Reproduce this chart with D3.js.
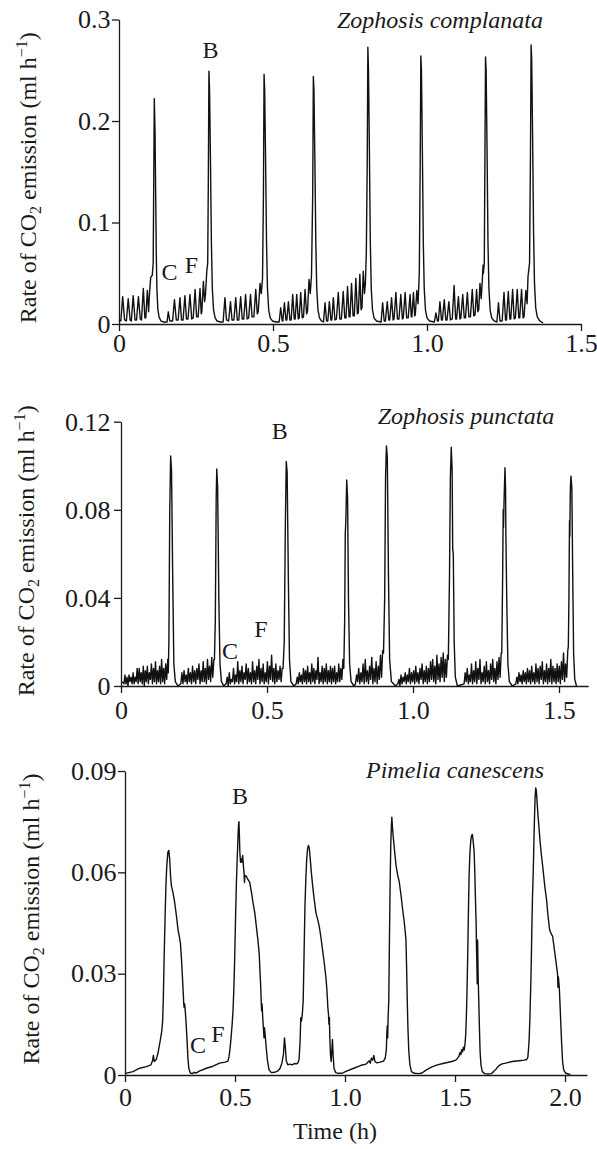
<!DOCTYPE html>
<html>
<head>
<meta charset="utf-8">
<script src="https://cdn.jsdelivr.net/npm/d3@7/dist/d3.min.js"></script>
<style>
  body { margin: 0; background: #fff; }
  svg text { font-family: "Liberation Serif", "Times New Roman", serif; fill: #1a1a1a; }
</style>
</head>
<body>
<script>
// ---- data: [time (h), CO2 rate (ml/h)] ----

var complanataTrace = [
  [0.000,0.004],[0.006,0.003],[0.012,0.027],[0.018,0.004],[0.024,0.003],[0.030,0.025],[0.036,0.004],[0.040,0.003],
  [0.046,0.028],[0.052,0.004],[0.057,0.004],[0.063,0.027],[0.069,0.005],[0.073,0.004],[0.079,0.035],[0.084,0.006],
  [0.087,0.006],[0.092,0.033],[0.096,0.012],[0.099,0.030],[0.103,0.046],[0.108,0.048],[0.111,0.060],
  [0.113,0.150],[0.1146,0.222],[0.117,0.190],[0.119,0.130],[0.121,0.070],[0.123,0.035],[0.126,0.015],[0.130,0.007],
  [0.136,0.003],[0.145,0.002],[0.156,0.002],
  [0.160,0.012],[0.165,0.003],[0.174,0.003],[0.180,0.024],[0.186,0.004],[0.192,0.004],[0.198,0.026],[0.203,0.004],
  [0.208,0.004],[0.214,0.028],[0.219,0.005],[0.224,0.005],[0.2305,0.029],[0.236,0.005],[0.241,0.006],[0.247,0.034],
  [0.252,0.007],[0.257,0.007],[0.263,0.035],[0.267,0.010],[0.269,0.012],[0.274,0.042],[0.278,0.022],[0.281,0.030],
  [0.285,0.052],[0.288,0.060],[0.290,0.140],[0.292,0.249],[0.294,0.230],[0.297,0.160],[0.300,0.080],[0.303,0.035],
  [0.307,0.014],[0.312,0.006],[0.318,0.003],[0.330,0.002],[0.338,0.002],
  [0.344,0.026],[0.349,0.004],[0.356,0.003],[0.362,0.022],[0.367,0.004],[0.373,0.004],[0.379,0.026],[0.384,0.004],
  [0.389,0.004],[0.395,0.027],[0.400,0.005],[0.405,0.005],[0.411,0.029],[0.416,0.005],[0.421,0.006],[0.427,0.029],
  [0.432,0.007],[0.438,0.007],[0.444,0.034],[0.449,0.010],[0.452,0.012],[0.458,0.040],[0.462,0.030],[0.466,0.045],
  [0.469,0.130],[0.471,0.246],[0.473,0.230],[0.476,0.160],[0.479,0.080],[0.482,0.035],[0.486,0.014],[0.491,0.006],
  [0.498,0.003],[0.510,0.002],[0.520,0.002],
  [0.525,0.016],[0.530,0.003],[0.532,0.003],[0.537,0.021],[0.542,0.004],[0.545,0.004],[0.550,0.022],[0.555,0.004],
  [0.559,0.004],[0.564,0.029],[0.569,0.005],[0.572,0.005],[0.577,0.029],[0.582,0.005],[0.585,0.006],[0.590,0.031],
  [0.595,0.006],[0.599,0.007],[0.604,0.034],[0.609,0.010],[0.612,0.012],[0.617,0.044],[0.621,0.030],[0.625,0.048],
  [0.629,0.130],[0.631,0.244],[0.633,0.230],[0.636,0.160],[0.639,0.080],[0.642,0.035],[0.646,0.014],[0.651,0.006],
  [0.657,0.003],[0.664,0.002],
  [0.669,0.021],[0.674,0.003],[0.678,0.003],[0.683,0.022],[0.688,0.004],[0.691,0.004],[0.696,0.026],[0.701,0.004],
  [0.706,0.005],[0.712,0.031],[0.717,0.005],[0.722,0.005],[0.728,0.032],[0.733,0.006],[0.737,0.006],[0.742,0.037],
  [0.747,0.007],[0.750,0.007],[0.755,0.040],[0.760,0.008],[0.764,0.008],[0.769,0.045],[0.774,0.010],[0.777,0.011],
  [0.782,0.049],[0.786,0.014],[0.789,0.016],[0.793,0.052],[0.797,0.030],[0.800,0.040],[0.803,0.070],
  [0.806,0.160],[0.808,0.2726],[0.810,0.250],[0.813,0.170],[0.816,0.080],[0.819,0.035],[0.823,0.014],[0.828,0.006],
  [0.836,0.003],[0.851,0.002],
  [0.856,0.021],[0.861,0.003],[0.865,0.003],[0.871,0.022],[0.876,0.004],[0.879,0.004],[0.885,0.026],[0.890,0.004],
  [0.893,0.005],[0.899,0.031],[0.904,0.005],[0.909,0.005],[0.915,0.029],[0.920,0.005],[0.923,0.006],[0.929,0.031],
  [0.934,0.006],[0.939,0.006],[0.945,0.029],[0.949,0.007],[0.951,0.007],[0.956,0.031],[0.960,0.008],[0.962,0.009],
  [0.967,0.033],[0.971,0.020],[0.975,0.050],
  [0.978,0.160],[0.980,0.264],[0.982,0.250],[0.985,0.170],[0.988,0.080],[0.991,0.035],[0.995,0.014],[1.000,0.006],
  [1.008,0.003],[1.024,0.002],
  [1.029,0.011],[1.034,0.003],[1.037,0.003],[1.042,0.022],[1.047,0.004],[1.050,0.004],[1.056,0.024],[1.061,0.004],
  [1.065,0.004],[1.071,0.022],[1.076,0.004],[1.082,0.005],[1.088,0.038],[1.093,0.005],[1.096,0.005],[1.102,0.027],
  [1.107,0.005],[1.110,0.006],[1.116,0.029],[1.121,0.006],[1.125,0.006],[1.131,0.031],[1.136,0.007],[1.141,0.007],
  [1.147,0.034],[1.152,0.008],[1.156,0.009],[1.161,0.034],[1.165,0.012],[1.168,0.014],[1.172,0.040],[1.176,0.025],
  [1.180,0.045],[1.182,0.058],[1.183,0.050],[1.186,0.060],
  [1.188,0.160],[1.190,0.263],[1.192,0.250],[1.195,0.170],[1.198,0.080],[1.201,0.035],[1.205,0.014],[1.210,0.006],
  [1.218,0.003],[1.227,0.002],
  [1.232,0.021],[1.237,0.003],[1.244,0.003],[1.250,0.031],[1.255,0.004],[1.258,0.004],[1.264,0.032],[1.269,0.005],
  [1.272,0.005],[1.278,0.034],[1.283,0.005],[1.287,0.006],[1.293,0.034],[1.298,0.006],[1.301,0.006],[1.307,0.034],
  [1.312,0.006],[1.315,0.007],[1.321,0.033],[1.325,0.020],[1.328,0.047],[1.333,0.060],
  [1.336,0.170],[1.338,0.275],[1.340,0.260],[1.343,0.180],[1.346,0.090],[1.349,0.040],[1.353,0.016],[1.358,0.007],
  [1.366,0.003],[1.377,0.001]
];

// Zophosis punctata: burst points plus the dense flutter between them
var punctataBursts = [
  [0.005,0.002],
  [0.162,0.006],[0.164,0.020],[0.167,0.080],[0.170,0.1044],[0.173,0.098],[0.177,0.050],[0.181,0.010],[0.186,0.002],[0.195,0.000],
  [0.320,0.012],[0.323,0.030],[0.326,0.085],[0.328,0.0985],[0.331,0.090],[0.335,0.040],[0.339,0.010],[0.344,0.002],[0.352,0.000],
  [0.555,0.008],[0.559,0.020],[0.563,0.075],[0.566,0.1019],[0.569,0.097],[0.573,0.050],[0.577,0.012],[0.582,0.002],[0.592,0.000],
  [0.763,0.008],[0.766,0.030],[0.768,0.069],[0.770,0.075],[0.773,0.0935],[0.776,0.085],[0.779,0.040],[0.783,0.010],[0.788,0.002],[0.798,0.000],
  [0.899,0.015],[0.903,0.040],[0.906,0.095],[0.909,0.109],[0.912,0.104],[0.916,0.050],[0.920,0.012],[0.926,0.002],[0.940,0.000],
  [1.121,0.012],[1.125,0.050],[1.128,0.095],[1.131,0.1084],[1.134,0.098],[1.136,0.062],[1.138,0.060],[1.141,0.020],[1.145,0.004],[1.152,0.000],
  [1.304,0.015],[1.307,0.050],[1.309,0.080],[1.310,0.072],[1.312,0.085],[1.315,0.0991],[1.317,0.090],[1.318,0.070],[1.321,0.040],[1.325,0.010],[1.330,0.002],[1.340,0.000],
  [1.532,0.018],[1.534,0.040],[1.536,0.075],[1.537,0.068],[1.539,0.090],[1.541,0.0953],[1.544,0.090],[1.547,0.050],[1.550,0.015],[1.554,0.003],[1.560,0.000]
];
var punctataFlutterSpan = [
  [0.010,0.160],[0.205,0.318],[0.360,0.552],[0.600,0.760],[0.803,0.896],[0.948,1.118],[1.175,1.302],[1.352,1.530]
];
var punctataFlutter = [
  [0.001,0.005,0.001,0.004,0.000,0.005,0.002,0.004,0.001,0.006,0.001,0.004,0.002,0.008,0.001,0.008,0.002,0.006,0.001,0.009,0.000,0.007,
   0.002,0.009,0.001,0.006,0.003,0.010,0.001,0.008,0.002,0.011,0.001,0.007,0.002,0.009,0.001,0.012,0.002,0.008,0.001,0.010,0.003,0.012],
  [0.001,0.006,0.001,0.007,0.002,0.005,0.001,0.008,0.002,0.006,0.001,0.009,0.002,0.007,0.001,0.008,0.003,0.010,0.001,0.007,0.002,0.011,
   0.002,0.008,0.001,0.012,0.003,0.009,0.002,0.013,0.004,0.012],
  [0.001,0.004,0.000,0.006,0.001,0.003,0.002,0.008,0.001,0.005,0.002,0.011,0.001,0.007,0.002,0.009,0.001,0.006,0.003,0.010,0.001,0.008,
   0.002,0.006,0.001,0.011,0.002,0.007,0.001,0.009,0.003,0.012,0.001,0.008,0.002,0.010,0.001,0.006,0.002,0.011,0.001,0.009,0.003,0.014,
   0.002,0.008,0.001,0.010,0.002,0.007,0.003,0.009,0.002,0.008],
  [0.001,0.004,0.001,0.006,0.002,0.005,0.001,0.008,0.002,0.007,0.001,0.009,0.002,0.006,0.001,0.010,0.002,0.008,0.001,0.007,0.003,0.013,
   0.001,0.006,0.002,0.009,0.001,0.008,0.002,0.010,0.001,0.007,0.002,0.009,0.001,0.008,0.002,0.009,0.001,0.006,0.002,0.010,0.002,0.008,
   0.003,0.012],
  [0.001,0.005,0.002,0.008,0.001,0.006,0.002,0.010,0.001,0.012,0.002,0.007,0.001,0.009,0.003,0.013,0.001,0.008,0.002,0.011,0.001,0.009,
   0.003,0.014,0.004,0.016],
  [0.001,0.003,0.000,0.005,0.001,0.004,0.002,0.006,0.001,0.005,0.002,0.008,0.001,0.006,0.002,0.007,0.001,0.009,0.002,0.006,0.001,0.008,
   0.003,0.010,0.001,0.007,0.002,0.009,0.001,0.008,0.002,0.011,0.003,0.012,0.002,0.009,0.001,0.014,0.003,0.010,0.002,0.013,0.004,0.015,
   0.002,0.012,0.004,0.014],
  [0.001,0.006,0.002,0.008,0.001,0.005,0.002,0.010,0.001,0.007,0.002,0.011,0.001,0.008,0.003,0.012,0.001,0.006,0.002,0.009,0.001,0.011,
   0.002,0.007,0.001,0.010,0.003,0.012,0.002,0.008,0.001,0.011,0.003,0.013,0.004,0.015],
  [0.001,0.004,0.001,0.006,0.002,0.005,0.001,0.007,0.002,0.006,0.001,0.008,0.002,0.007,0.001,0.009,0.002,0.006,0.001,0.010,0.002,0.008,
   0.001,0.009,0.003,0.011,0.001,0.007,0.002,0.010,0.001,0.008,0.002,0.012,0.001,0.009,0.002,0.008,0.001,0.010,0.002,0.009,0.001,0.011,
   0.003,0.015,0.002,0.010,0.004,0.016]
];

var canescensTrace = [
  [0.003,0.0005],[0.036,0.0010],[0.067,0.0020],[0.097,0.0025],[0.118,0.0030],[0.125,0.0042],[0.129,0.0058],[0.133,0.0040],
  [0.142,0.0046],[0.150,0.0065],[0.158,0.0094],[0.165,0.0120],[0.168,0.0135],[0.171,0.0160],[0.174,0.0220],[0.178,0.0350],
  [0.182,0.0460],[0.186,0.0560],[0.190,0.0620],[0.195,0.0660],[0.199,0.0665],[0.203,0.0640],[0.207,0.0590],[0.211,0.0560],
  [0.218,0.0540],[0.226,0.0510],[0.234,0.0470],[0.241,0.0430],[0.247,0.0410],[0.252,0.0390],[0.257,0.0340],[0.261,0.0290],
  [0.265,0.0240],[0.267,0.0210],[0.269,0.0200],[0.271,0.0210],[0.274,0.0190],[0.278,0.0150],[0.282,0.0104],[0.286,0.0050],
  [0.290,0.0020],[0.297,0.0006],[0.306,0.0004],[0.315,0.0008],[0.324,0.0006],[0.340,0.0012],[0.370,0.0020],[0.400,0.0026],
  [0.430,0.0035],[0.455,0.0038],[0.468,0.0041],[0.473,0.0055],[0.477,0.0075],[0.482,0.0110],[0.487,0.0150],[0.491,0.0190],
  [0.495,0.0260],[0.498,0.0330],[0.502,0.0450],[0.506,0.0560],[0.510,0.0640],[0.514,0.0710],[0.516,0.0740],[0.518,0.0750],
  [0.520,0.0710],[0.522,0.0660],[0.525,0.0630],[0.528,0.0640],[0.531,0.0630],[0.535,0.0650],[0.538,0.0620],[0.541,0.0600],
  [0.543,0.0570],[0.545,0.0590],[0.550,0.0590],[0.558,0.0580],[0.567,0.0570],[0.575,0.0540],[0.582,0.0510],[0.590,0.0480],
  [0.597,0.0440],[0.604,0.0400],[0.610,0.0360],[0.614,0.0300],[0.617,0.0260],[0.619,0.0220],[0.621,0.0190],[0.623,0.0210],
  [0.626,0.0170],[0.629,0.0140],[0.632,0.0110],[0.634,0.0140],[0.637,0.0120],[0.642,0.0080],[0.648,0.0040],[0.655,0.0015],
  [0.665,0.0007],[0.680,0.0008],[0.695,0.0012],[0.705,0.0020],[0.713,0.0035],[0.720,0.0060],[0.725,0.0110],[0.729,0.0080],
  [0.733,0.0042],[0.740,0.0030],[0.750,0.0032],[0.760,0.0030],[0.770,0.0034],[0.780,0.0033],[0.786,0.0036],[0.791,0.0045],
  [0.796,0.0100],[0.799,0.0170],[0.802,0.0160],[0.806,0.0180],[0.810,0.0220],[0.814,0.0360],[0.818,0.0500],[0.822,0.0580],
  [0.826,0.0640],[0.830,0.0670],[0.834,0.0680],[0.838,0.0670],[0.842,0.0640],[0.847,0.0600],[0.853,0.0560],[0.860,0.0520],
  [0.868,0.0480],[0.876,0.0460],[0.883,0.0440],[0.890,0.0410],[0.898,0.0370],[0.906,0.0330],[0.913,0.0290],[0.918,0.0250],
  [0.922,0.0200],[0.925,0.0180],[0.927,0.0150],[0.929,0.0170],[0.931,0.0110],[0.934,0.0060],[0.937,0.0040],[0.940,0.0070],
  [0.943,0.0105],[0.946,0.0060],[0.950,0.0020],[0.958,0.0007],[0.970,0.0005],[0.990,0.0006],[1.010,0.0012],[1.040,0.0020],
  [1.070,0.0028],[1.095,0.0032],[1.110,0.0042],[1.115,0.0035],[1.120,0.0050],[1.126,0.0044],[1.131,0.0058],[1.136,0.0040],
  [1.145,0.0036],[1.160,0.0038],[1.175,0.0041],[1.183,0.0050],[1.188,0.0075],[1.190,0.0120],[1.192,0.0145],[1.194,0.0110],
  [1.196,0.0170],[1.199,0.0220],[1.202,0.0400],[1.205,0.0560],[1.208,0.0680],[1.211,0.0740],[1.213,0.0763],[1.216,0.0730],
  [1.220,0.0700],[1.226,0.0660],[1.232,0.0620],[1.240,0.0590],[1.247,0.0570],[1.255,0.0530],[1.262,0.0490],[1.268,0.0460],
  [1.273,0.0430],[1.277,0.0400],[1.280,0.0320],[1.283,0.0220],[1.286,0.0140],[1.290,0.0070],[1.295,0.0030],[1.302,0.0010],
  [1.315,0.0005],[1.335,0.0004],[1.350,0.0006],[1.370,0.0015],[1.395,0.0024],[1.420,0.0030],[1.445,0.0034],[1.465,0.0037],
  [1.485,0.0040],[1.504,0.0044],[1.512,0.0050],[1.518,0.0056],[1.522,0.0066],[1.527,0.0060],[1.530,0.0075],[1.534,0.0068],
  [1.538,0.0082],[1.542,0.0074],[1.546,0.0095],[1.549,0.0123],[1.552,0.0180],[1.555,0.0260],[1.558,0.0360],[1.561,0.0480],
  [1.564,0.0590],[1.568,0.0660],[1.572,0.0696],[1.576,0.0710],[1.579,0.0712],[1.583,0.0690],[1.587,0.0660],[1.590,0.0600],
  [1.593,0.0520],[1.596,0.0450],[1.598,0.0370],[1.600,0.0310],[1.601,0.0270],[1.602,0.0400],[1.603,0.0390],[1.605,0.0300],
  [1.608,0.0220],[1.611,0.0140],[1.614,0.0070],[1.618,0.0030],[1.624,0.0010],[1.635,0.0004],[1.650,0.0003],[1.665,0.0004],
  [1.675,0.0010],[1.687,0.0018],[1.700,0.0028],[1.714,0.0033],[1.735,0.0036],[1.760,0.0040],[1.790,0.0042],[1.815,0.0044],
  [1.826,0.0046],[1.831,0.0052],[1.834,0.0075],[1.837,0.0104],[1.840,0.0160],[1.843,0.0230],[1.846,0.0310],[1.849,0.0420],
  [1.852,0.0520],[1.856,0.0610],[1.860,0.0730],[1.864,0.0820],[1.867,0.0850],[1.870,0.0840],[1.873,0.0810],[1.877,0.0770],
  [1.882,0.0730],[1.887,0.0690],[1.893,0.0650],[1.900,0.0610],[1.908,0.0560],[1.916,0.0520],[1.923,0.0470],[1.930,0.0430],
  [1.936,0.0420],[1.944,0.0410],[1.950,0.0380],[1.956,0.0350],[1.962,0.0320],[1.966,0.0300],[1.968,0.0260],[1.970,0.0290],
  [1.974,0.0260],[1.978,0.0200],[1.981,0.0150],[1.985,0.0090],[1.989,0.0040],[1.994,0.0015],[2.002,0.0006],[2.015,0.0003],
  [2.025,0.0002]
];

var complanataYTicks = [0, 0.1, 0.2, 0.3];
var punctataYTicks = [0, 0.04, 0.08, 0.12];
var canescensYTicks = [0, 0.03, 0.06, 0.09];
var complanataXTicks = [0, 0.5, 1.0, 1.5];
var punctataXTicks = [0, 0.5, 1.0, 1.5];
var canescensXTicks = [0, 0.5, 1.0, 1.5, 2.0];

// ---- build the punctata trace from bursts + evenly sampled flutter runs ----
var punctataTrace = punctataBursts.slice();
punctataFlutter.forEach(function(vals, i){
    var a = punctataFlutterSpan[i][0], b = punctataFlutterSpan[i][1];
    vals.forEach(function(v, j){
        punctataTrace.push([a + j * (b - a) / (vals.length - 1), v]);
    });
});
punctataTrace.sort(function(p, q){ return p[0] - q[0]; });

var width = 597, height = 1149;
var fontsize = "26px";

var svg = d3.select("body")
    .append("svg").attr("width", width).attr("height", height);

function fmtTick(d, dec){ return d === 0 ? "0" : d.toFixed(dec); }

function drawPanel(p){
    var x = d3.scaleLinear().domain([0, p.xMax]).range([p.left, p.right]);
    var y = d3.scaleLinear().domain([0, p.yMax]).range([p.bottom, p.top]);
    var g = svg.append("g");

    var xAxis = g.append("g")
        .attr("transform", "translate(0," + p.bottom + ")")
        .call(d3.axisBottom(x).tickValues(p.xTicks).tickSize(7).tickSizeOuter(0)
              .tickPadding(p.xPad).tickFormat(function(d){ return fmtTick(d, 1); }));
    var yAxis = g.append("g")
        .attr("transform", "translate(" + p.left + ",0)")
        .call(d3.axisLeft(y).tickValues(p.yTicks).tickSize(7).tickSizeOuter(0)
              .tickPadding(p.yPad).tickFormat(function(d){ return fmtTick(d, p.yDec); }));

    [xAxis, yAxis].forEach(function(a){
        a.select(".domain").attr("stroke", "#1a1a1a").attr("stroke-width", 1.3);
        a.selectAll(".tick line").attr("stroke", "#1a1a1a").attr("stroke-width", 1.3);
        a.selectAll(".tick text")
            .style("font-family", '"Liberation Serif", serif')
            .style("font-size", fontsize).attr("fill", "#1a1a1a");
    });

    var line = d3.line().x(function(d){ return x(d[0]); }).y(function(d){ return y(d[1]); });
    g.append("path").datum(p.data)
        .attr("d", line)
        .attr("fill", "none")
        .attr("stroke", "#111")
        .attr("stroke-width", 1.4)
        .attr("stroke-linejoin", "round");

    // species name
    g.append("text")
        .attr("x", p.titleX).attr("y", p.titleY)
        .attr("text-anchor", "middle")
        .style("font-size", "24px").style("font-style", "italic")
        .text(p.title);

    // B / C / F markers
    p.marks.forEach(function(m){
        g.append("text").attr("x", m[1]).attr("y", m[2])
            .attr("text-anchor", "middle").style("font-size", "24px").text(m[0]);
    });

    // rotated y label with sub/superscripts
    var t = g.append("text")
        .attr("transform", "translate(" + p.labelX + "," + ((p.top + p.bottom) / 2 + p.labelDy) + ") rotate(-90)")
        .attr("text-anchor", "middle")
        .style("font-size", "24px");
    t.append("tspan").text("Rate of CO");
    t.append("tspan").attr("dy", 5).style("font-size", "16px").text("2");
    t.append("tspan").attr("dy", -5).text(" emission (ml h");
    t.append("tspan").attr("dy", -9).style("font-size", "16px").text("\u22121");
    t.append("tspan").attr("dy", 9).text(")");
}

drawPanel({
    data: complanataTrace, xMax: 1.5, yMax: 0.3,
    left: 119, right: 581, top: 19.5, bottom: 324,
    xTicks: complanataXTicks, yTicks: complanataYTicks, yDec: 1, xPad: 2.5, yPad: 1.5,
    title: "Zophosis complanata", titleX: 440, titleY: 28,
    marks: [["B", 210.5, 58], ["C", 169.5, 280], ["F", 191.5, 273]],
    labelX: 36, labelDy: 6
});

drawPanel({
    data: punctataTrace, xMax: 1.6, yMax: 0.12,
    left: 121, right: 588.2, top: 421.7, bottom: 686,
    xTicks: punctataXTicks, yTicks: punctataYTicks, yDec: 2, xPad: 7.5, yPad: 3.5,
    title: "Zophosis punctata", titleX: 466, titleY: 424,
    marks: [["B", 279.7, 439], ["C", 230, 659], ["F", 261, 637]],
    labelX: 34, labelDy: -3
});

drawPanel({
    data: canescensTrace, xMax: 2.1, yMax: 0.09,
    left: 125, right: 587, top: 771, bottom: 1075,
    xTicks: canescensXTicks, yTicks: canescensYTicks, yDec: 2, xPad: 5.5, yPad: 1.5,
    title: "Pimelia canescens", titleX: 455, titleY: 778,
    marks: [["B", 240, 804], ["C", 198, 1053], ["F", 218, 1042]],
    labelX: 39, labelDy: -4
});

svg.append("text")
    .attr("x", 335).attr("y", 1139)
    .attr("text-anchor", "middle")
    .style("font-size", "24px")
    .text("Time (h)");
</script>
</body>
</html>
